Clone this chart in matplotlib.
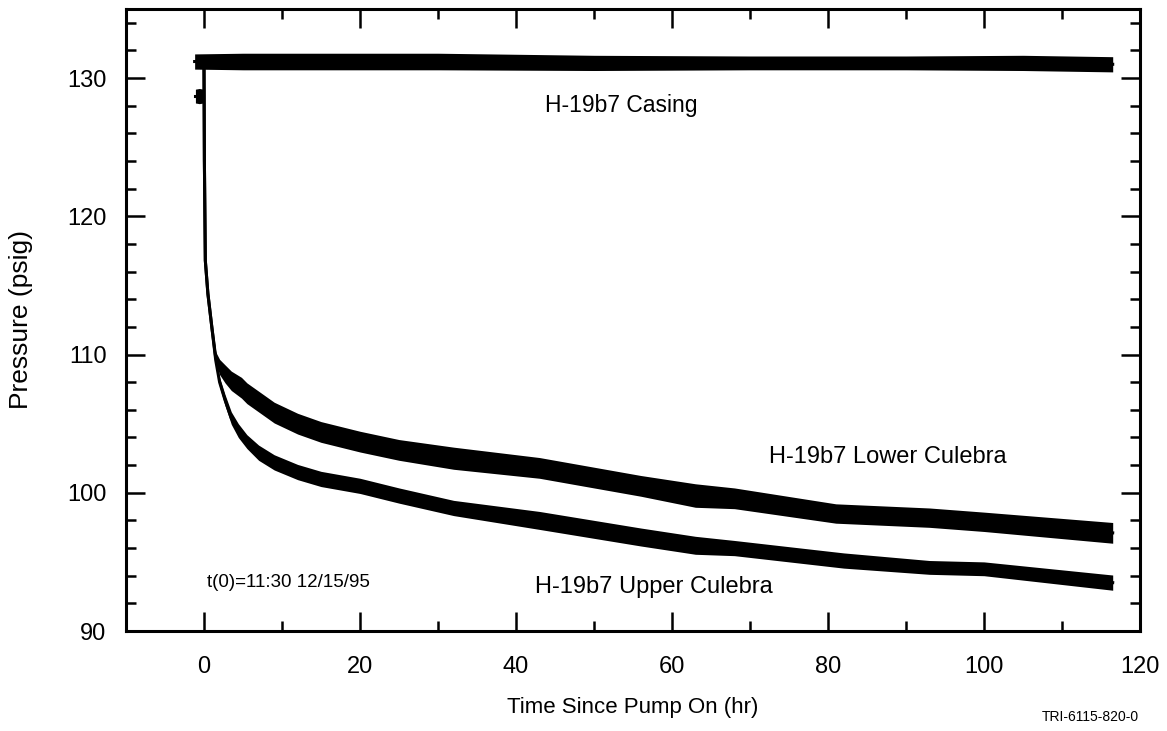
import numpy as np
import matplotlib
matplotlib.use('Agg')
import matplotlib.pyplot as plt
from matplotlib.ticker import MultipleLocator, FormatStrFormatter

# データ
# 中心値と、ノイズ帯の半幅 (psi)
t_casing = [-1.2, 5, 15, 30, 50, 70, 90, 105, 116.5]
p_casing = [131.2, 131.2, 131.2, 131.2, 131.1, 131.1, 131.1, 131.1, 131.0]
w_casing = [0.55, 0.6, 0.6, 0.6, 0.55, 0.5, 0.5, 0.55, 0.55]

t_pre = [-1.1, -0.6, -0.1]
p_pre = [128.7, 128.7, 128.7]
w_pre = [0.5, 0.55, 0.5]

t_lower = [0, 0.05, 0.17, 0.5, 1.0, 1.5, 2.0, 2.7, 3.5, 4.8, 5.5, 7, 9, 12, 15, 20, 25, 32, 43,
           56, 63, 68, 81, 93, 100, 116.5]
p_lower = [130.8, 124, 116.8, 114.4, 112, 109.8, 109.1, 108.6, 108.1, 107.6, 107.2, 106.6, 105.8,
           105.0, 104.4, 103.7, 103.1, 102.5, 101.8, 100.5, 99.8, 99.6, 98.5, 98.2, 97.9, 97.1]
w_lower = [0, 0, 0, 0.1, 0.2, 0.4, 0.55, 0.65, 0.7, 0.75, 0.75, 0.75, 0.75, 0.75, 0.75, 0.75,
           0.75, 0.8, 0.75, 0.75, 0.85, 0.75, 0.7, 0.7, 0.7, 0.75]

t_upper = [0, 0.05, 0.17, 0.5, 1.0, 1.5, 2.0, 2.7, 3.5, 4.4, 5.5, 7, 9, 12, 15, 20, 25, 32, 43,
           56, 63, 68, 82, 93, 100, 116.5]
p_upper = [130.8, 124, 116.8, 114.4, 112, 109.6, 108.0, 106.7, 105.4, 104.5, 103.7, 102.9, 102.2,
           101.5, 101.0, 100.5, 99.8, 98.9, 98.0, 96.8, 96.2, 96.0, 95.1, 94.6, 94.5, 93.5]
w_upper = [0, 0, 0, 0.1, 0.2, 0.3, 0.35, 0.4, 0.45, 0.5, 0.5, 0.55, 0.55, 0.55, 0.55, 0.55,
           0.55, 0.55, 0.65, 0.65, 0.65, 0.55, 0.55, 0.5, 0.5, 0.55]

#描画の宣言
plt.rcParams['font.family'] = ['Liberation Sans', 'DejaVu Sans']
fig = plt.figure(figsize=(11.67, 7.31), dpi=100)
ax = fig.add_axes([126/1167, 1-631/731, (1140-126)/1167, (631-9)/731])

def band(t, p, w):
    t = np.array(t); p = np.array(p); w = np.array(w)
    ax.plot(t, p, c='k', lw=2.2, solid_joinstyle='round')
    ax.fill_between(t, p-w, p+w, color='k', lw=0)

band(t_casing, p_casing, w_casing)
band(t_pre, p_pre, w_pre)
band(t_lower, p_lower, w_lower)
band(t_upper, p_upper, w_upper)

ax.set_xlim(-10, 120)
ax.set_ylim(90, 135)
ax.xaxis.set_major_locator(MultipleLocator(20))
ax.xaxis.set_minor_locator(MultipleLocator(10))
ax.yaxis.set_major_locator(MultipleLocator(10))
ax.yaxis.set_minor_locator(MultipleLocator(2))
ax.yaxis.set_major_formatter(FormatStrFormatter('%d'))
ax.tick_params(which='both', direction='in', top=True, right=True, width=1.8, labelsize=17)
ax.tick_params(which='major', length=14)
ax.tick_params(which='minor', length=7)
ax.tick_params(axis='x', pad=18)
ax.tick_params(axis='y', pad=14)
for s in ax.spines.values():
    s.set_linewidth(2.2)

ax.set_xlabel('Time Since Pump On (hr)', fontsize=16)
ax.xaxis.set_label_coords(0.5, -0.106)
ax.set_ylabel('Pressure (psig)', fontsize=19)
ax.yaxis.set_label_coords(-0.092, 0.5)

ax.text(53.5, 128.0, 'H-19b7 Casing', fontsize=16.5, ha='center', va='center')
ax.text(72.4, 102.6, 'H-19b7 Lower Culebra', fontsize=17, ha='left', va='center')
ax.text(57.7, 93.2, 'H-19b7 Upper Culebra', fontsize=17, ha='center', va='center')
ax.text(0.35, 93.5, 't(0)=11:30 12/15/95', fontsize=13.5, ha='left', va='center')
fig.text(1139/1167, 1-717/731, 'TRI-6115-820-0', fontsize=10, ha='right', va='center')

fig.savefig('out.png', dpi=100)
